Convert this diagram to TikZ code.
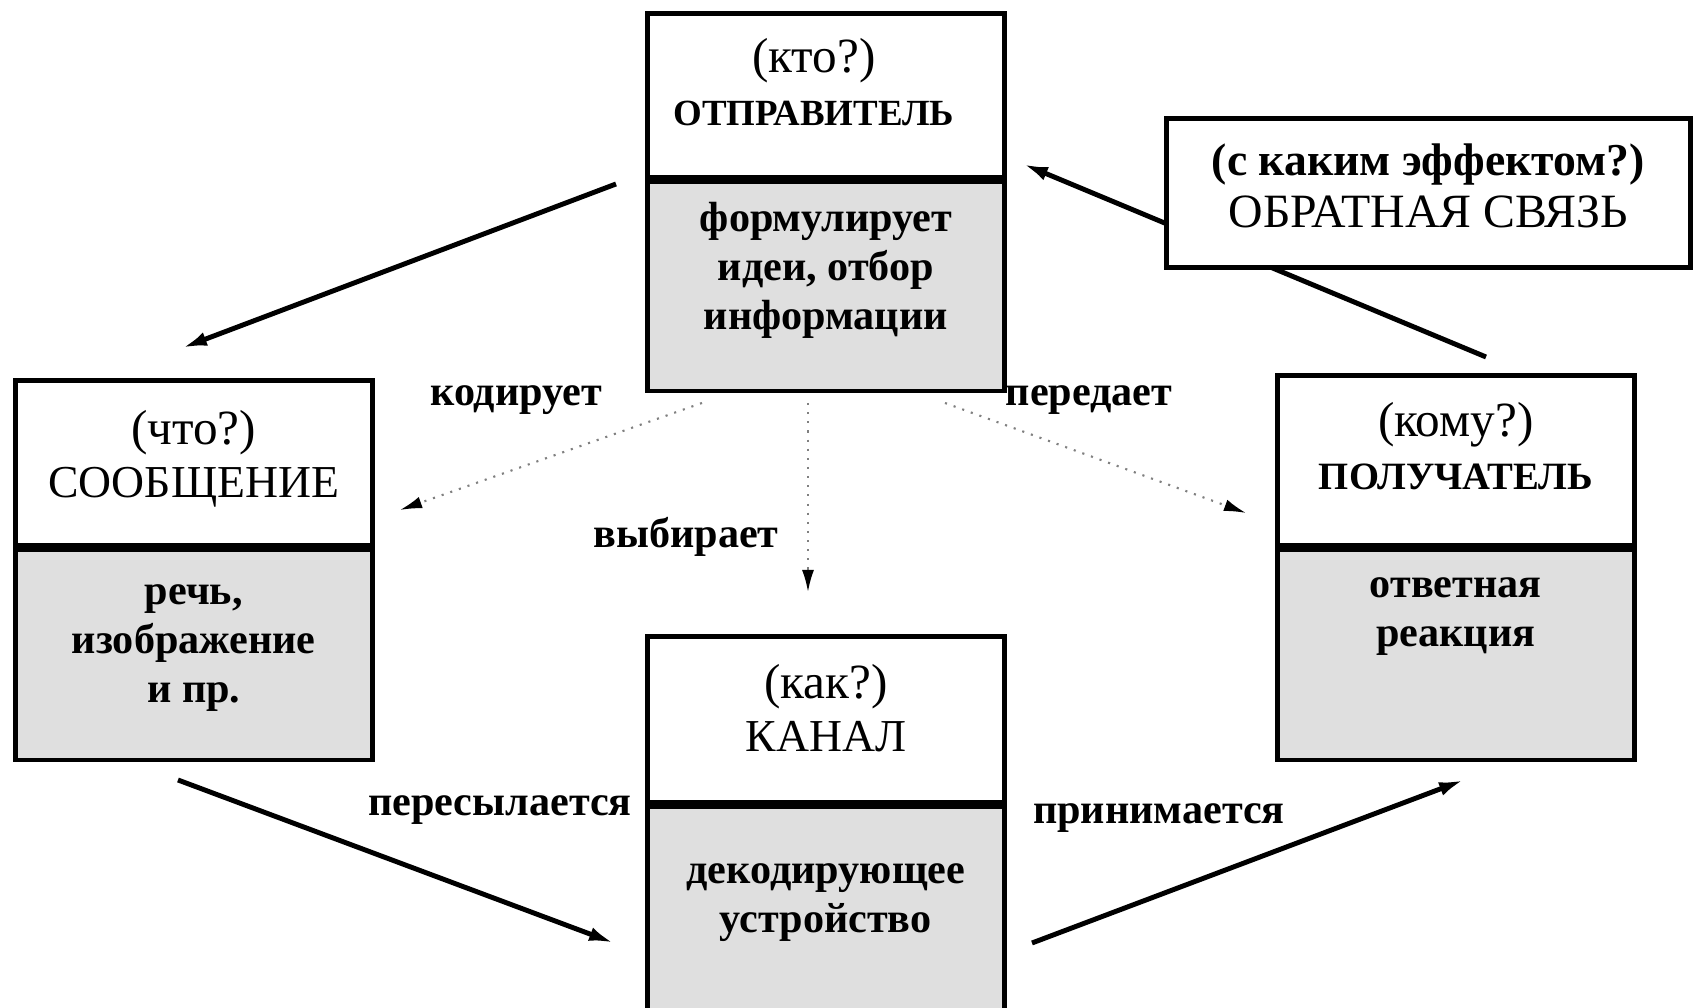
\documentclass[tikz,border=0pt]{standalone}
\usepackage{fontspec}
\setmainfont{Liberation Serif}
\usetikzlibrary{positioning,arrows.meta}

\tikzset{
	head/.style={draw, line width=1.3pt, fill=white, minimum width=3.57cm, inner sep=0pt},
	body/.style={draw, line width=1.3pt, fill=gray!25, minimum width=3.57cm, inner sep=0pt},
	headtxt/.style={align=center, inner sep=0pt, font=\fontsize{13}{15}\selectfont},
	bodytxt/.style={align=center, inner sep=0pt, font=\bfseries\fontsize{12}{14}\selectfont},
	ask/.style={font=\bfseries\fontsize{12}{14}\selectfont},
	flow/.style={line width=1.4pt, -{Latex[length=0.25cm,width=0.14cm]}},
	hint/.style={gray, dotted, line width=0.6pt, -{Latex[black,length=0.22cm,width=0.12cm]}}
}
\newcommand{\qq}[1]{{\fontsize{14}{15}\selectfont #1}}
\newcommand{\capt}[1]{{\bfseries\fontsize{10.5}{15}\selectfont #1}}

\begin{document}
\begin{tikzpicture}
	\useasboundingbox (0,0) rectangle (16.94,10.08);

	% feedback line runs behind its box
	\coordinate (f1) at (14.86,6.51); \coordinate (f2) at (10.23,8.44);
	\draw[flow] (f1) -- (f2);

	% sender
	\node[head, minimum height=1.64cm, anchor=north west] (sender) at (6.45,9.97) {};
	\node[body, minimum height=2.09cm, below=0pt of sender] (senderbody) {};
	\node[headtxt, yshift=1.35mm, xshift=-1.2mm] (sendertxt) at (sender) {\qq{(кто?)}\\\capt{ОТПРАВИТЕЛЬ}};
	\node[bodytxt, yshift=1.6mm] (senderbodytxt) at (senderbody) {формулирует\\идеи, отбор\\информации};

	% message
	\node[head, minimum height=1.65cm, anchor=north west] (message) at (0.13,6.30) {};
	\node[body, minimum height=2.10cm, below=0pt of message] (messagebody) {};
	\node[headtxt, yshift=0.4mm] (messagetxt) at (message) {\qq{(что?)}\\СООБЩЕНИЕ};
	\node[bodytxt, yshift=0.7mm] (messagebodytxt) at (messagebody) {речь,\\изображение\\и пр.};

	% receiver
	\node[head, minimum height=1.70cm, anchor=north west] (receiver) at (12.75,6.35) {};
	\node[body, minimum height=2.10cm, below=0pt of receiver] (receiverbody) {};
	\node[headtxt, yshift=1.4mm] (receivertxt) at (receiver) {\qq{(кому?)}\\\capt{\fontsize{11}{15}\selectfont ПОЛУЧАТЕЛЬ}};
	\node[bodytxt, yshift=3.8mm] (receiverbodytxt) at (receiverbody) {ответная\\реакция};

	% channel
	\node[head, minimum height=1.66cm, anchor=north west] (channel) at (6.45,3.74) {};
	\node[body, minimum height=2.08cm, below=0pt of channel] (channelbody) {};
	\node[headtxt, yshift=1.1mm] (channeltxt) at (channel) {\qq{(как?)}\\КАНАЛ};
	\node[bodytxt, yshift=0.8mm] (channelbodytxt) at (channelbody) {декодирующее\\устройство};

	% feedback
	\node[head, minimum width=5.24cm, minimum height=1.49cm, anchor=north west] (feedback) at (11.64,8.92) {};
	\node[headtxt, yshift=0.7mm] (feedbacktxt) at (feedback)
		{{\bfseries (с каким эффектом?)}\\{\fontsize{13.6}{15}\selectfont ОБРАТНАЯ СВЯЗЬ}};

	% solid arrows
	\coordinate (s1) at (6.16,8.24); \coordinate (m1) at (1.82,6.60);
	\draw[flow] (s1) -- (m1);
	\coordinate (m2) at (1.78,2.28); \coordinate (c1) at (6.14,0.65);
	\draw[flow] (m2) -- (c1);
	\coordinate (c2) at (10.32,0.65); \coordinate (r1) at (14.64,2.28);
	\draw[flow] (c2) -- (r1);

	% dotted arrows
	\coordinate (d1) at (7.02,6.05); \coordinate (d1e) at (4.00,4.98);
	\coordinate (d2) at (8.08,6.05); \coordinate (d2e) at (8.08,4.16);
	\coordinate (d3) at (9.45,6.05); \coordinate (d3e) at (12.46,4.95);
	\draw[hint] (d1) -- (d1e);
	\draw[hint] (d2) -- (d2e);
	\draw[hint] (d3) -- (d3e);

	% labels
	\node[ask] (kodir) at (5.16,6.08) {кодирует};
	\node[ask] (pered) at (10.89,6.08) {передает};
	\node[ask] (vybir) at (6.86,4.71) {выбирает};
	\node[ask] (peres) at (5.00,1.98) {пересылается};
	\node[ask] (prin) at (11.59,1.90) {принимается};

\end{tikzpicture}
\end{document}
